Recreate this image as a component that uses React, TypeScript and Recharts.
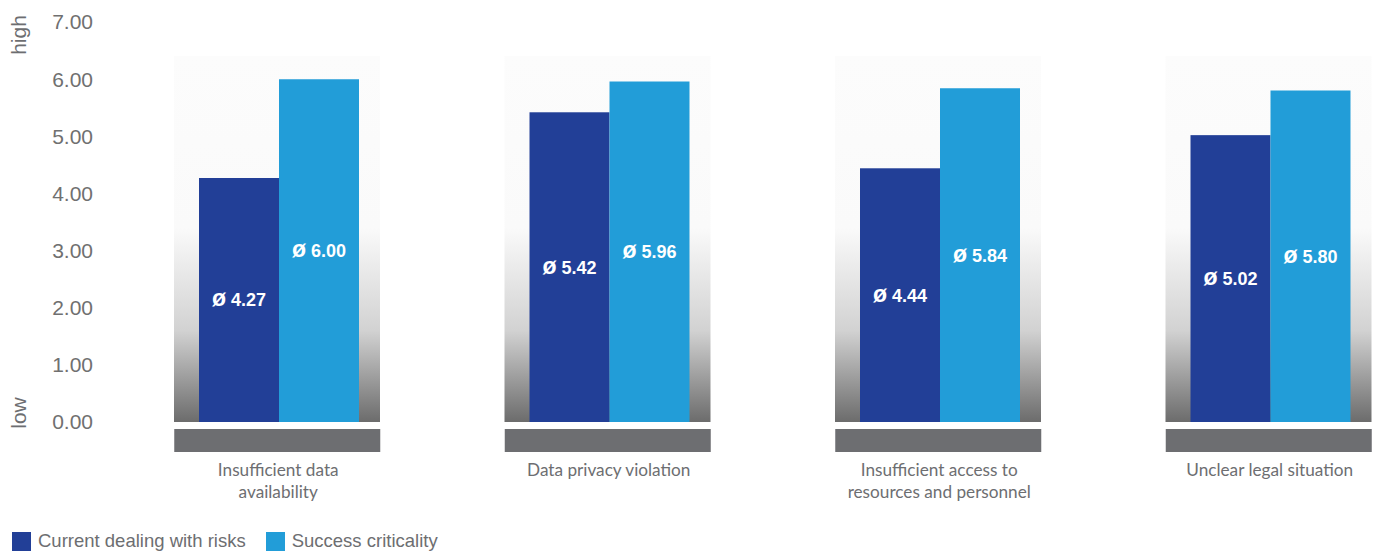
import React from "react";
import { Bar, BarChart, LabelList, XAxis, YAxis } from "recharts";

const categories = [
  "Insufficient data availability",
  "Data privacy violation",
  "Insufficient access to resources and personnel",
  "Unclear legal situation",
];
const categoryLines = [
  ["Insufficient data", "availability"],
  ["Data privacy violation"],
  ["Insufficient access to", "resources and personnel"],
  ["Unclear legal situation"],
];
const currentDealing = [4.27, 5.42, 4.44, 5.02];
const successCriticality = [6.0, 5.96, 5.84, 5.8];
const yTicks = [0, 1, 2, 3, 4, 5, 6, 7];
const seriesNames = ["Current dealing with risks", "Success criticality"];

const DARK = "#223f97";
const LIGHT = "#229dd8";
const GREY_TEXT = "#6d6e71";
const STRIP = "#6d6e71";
const PANEL_W = 206;
const PANEL_H = 366;
const ARIAL = "'Liberation Sans', Arial, sans-serif";

const data = categories.map((name, i) => ({
  name,
  current: currentDealing[i],
  success: successCriticality[i],
}));

// first series draws the gradient panel behind the pair of bars
const PanelBar = (props: any) => {
  const { x, y, width, height, fill } = props;
  const center = x + width - 2;
  const bottom = y + height;
  return (
    <g>
      <rect
        x={center - PANEL_W / 2}
        y={bottom - PANEL_H}
        width={PANEL_W}
        height={PANEL_H}
        fill="url(#panelGrad)"
      />
      <rect x={x} y={y} width={width} height={height} fill={fill} />
    </g>
  );
};

const CategoryTick = (props: any) => {
  const { x, y, payload } = props;
  const lines = categoryLines[payload.index] ?? [payload.value];
  return (
    <g>
      <rect x={x - 2 - PANEL_W / 2} y={y + 7} width={PANEL_W} height={23} fill={STRIP} />
      {lines.map((line: string, i: number) => (
        <text
          key={line}
          x={x - 1}
          y={y + 54 + i * 22}
          textAnchor="middle"
          fill={GREY_TEXT}
          fontSize={17.2}
          fontFamily="Lato, 'Noto Sans', sans-serif"
        >
          {line}
        </text>
      ))}
    </g>
  );
};

const SideLabels = () => (
  <g fill={GREY_TEXT} fontSize={21} fontFamily={ARIAL}>
    <text x={26} y={35} textAnchor="middle" transform="rotate(-90 26 35)">
      high
    </text>
    <text x={26} y={413} textAnchor="middle" transform="rotate(-90 26 413)">
      low
    </text>
  </g>
);

const ValueLabel = (props: any) => {
  const { x, y, width, height, value } = props;
  return (
    <text
      x={x + width / 2}
      y={y + height / 2}
      dy="0.36em"
      textAnchor="middle"
      fill="#fff"
      fontSize={18}
      fontWeight="bold"
      fontFamily={ARIAL}
    >
      <tspan fontSize={23}>ø</tspan>
      {` ${Number(value).toFixed(2)}`}
    </text>
  );
};

export default function App() {
  return (
    <div
      style={{
        position: "absolute",
        left: 0,
        top: 0,
        width: 1380,
        height: 554,
        overflow: "hidden",
        background: "#fff",
      }}
    >
      <BarChart
        width={1436}
        height={554}
        data={data}
        margin={{ top: 22, right: 0, bottom: 72, left: 2 }}
        barSize={80}
        barGap={0}
      >
        <defs>
          <linearGradient id="panelGrad" x1="0" y1="0" x2="0" y2="1">
            <stop offset="0%" stopColor="#fcfcfc" />
            <stop offset="47%" stopColor="#fafafa" />
            <stop offset="75%" stopColor="#d2d2d2" />
            <stop offset="100%" stopColor="#6c6c6c" />
          </linearGradient>
        </defs>
        <XAxis
          dataKey="name"
          axisLine={false}
          tickLine={false}
          tickSize={0}
          tickMargin={0}
          height={60}
          interval={0}
          tick={<CategoryTick />}
        />
        <YAxis
          width={112}
          domain={[0, 7]}
          ticks={yTicks}
          interval={0}
          axisLine={false}
          tickLine={false}
          tickSize={0}
          tickMargin={21}
          tickFormatter={(v: number) => v.toFixed(2)}
          tick={{ fill: "#707070", fontSize: 21, fontFamily: ARIAL }}
          label={{ content: () => <SideLabels /> }}
        />
        <Bar
          dataKey="current"
          name={seriesNames[0]}
          fill={DARK}
          shape={<PanelBar />}
          isAnimationActive={false}
        >
          <LabelList dataKey="current" content={<ValueLabel />} />
        </Bar>
        <Bar dataKey="success" name={seriesNames[1]} fill={LIGHT} isAnimationActive={false}>
          <LabelList dataKey="success" content={<ValueLabel />} />
        </Bar>
      </BarChart>
      <div
        style={{
          position: "absolute",
          left: 12,
          top: 530,
          display: "flex",
          alignItems: "center",
          fontFamily: ARIAL,
          fontSize: 18.5,
          color: GREY_TEXT,
        }}
      >
        {seriesNames.map((n, i) => (
          <div key={n} style={{ display: "flex", alignItems: "center", marginRight: 20 }}>
            <span
              style={{
                width: 19,
                height: 19,
                background: i === 0 ? DARK : LIGHT,
                marginRight: 7,
                display: "inline-block",
              }}
            />
            <span>{n}</span>
          </div>
        ))}
      </div>
    </div>
  );
}
